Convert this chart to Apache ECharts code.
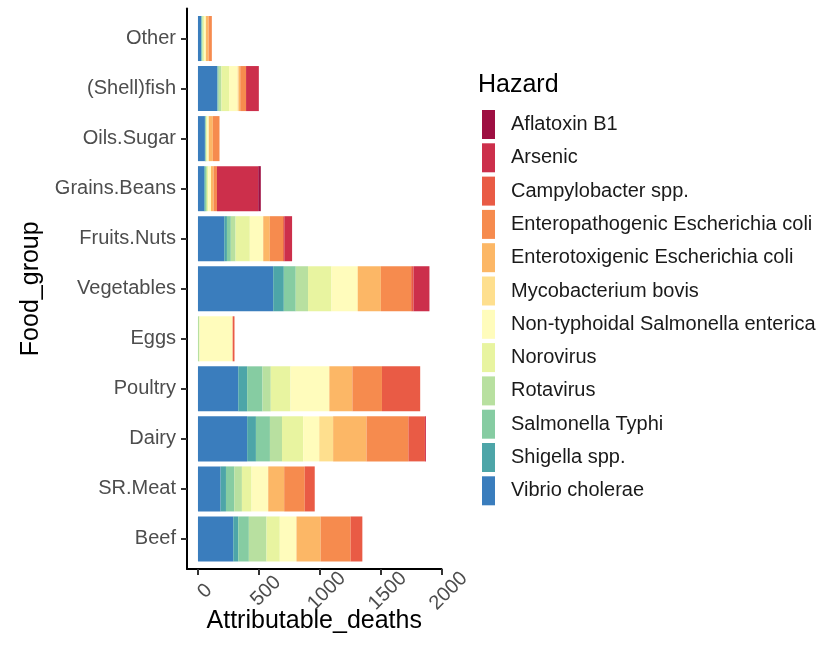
<!DOCTYPE html>
<html>
<head>
<meta charset="utf-8">
<title>Attributable deaths by food group and hazard</title>
<script src="https://cdn.jsdelivr.net/npm/echarts@6/dist/echarts.min.js"></script>
<style>
  html, body { margin: 0; padding: 0; background: #ffffff; }
  #chart { width: 839px; height: 658px; }
</style>
</head>
<body>
<div id="chart"></div>
<script>
// Food groups, listed bottom to top as they sit on the y axis
const categories = ['Beef', 'SR.Meat', 'Dairy', 'Poultry', 'Eggs', 'Vegetables',
  'Fruits.Nuts', 'Grains.Beans', 'Oils.Sugar', '(Shell)fish', 'Other'];

// Attributable deaths per hazard, one value per food group (same order as categories)
const vibrioCholerae   = [290, 186, 404, 331,   0, 618, 216,  52, 57, 161, 25];
const shigella         = [ 41,  44,  72,  73,   0,  87,  22,   6,  4,   0,  5];
const salmonellaTyphi  = [ 87,  68, 115, 126,   0,  98,  32,   8,  6,  10,  8];
const rotavirus        = [145,  63,  99,  68,  12, 101,  39,   8,  0,  22,  0];
const norovirus        = [109,  79, 174, 162,   0, 192, 117,  11, 10,  62, 12];
const nonTyphoidal     = [137, 137, 132, 319, 273, 213, 110,  22, 12,  70, 15];
const mycobacterium    = [  0,   0, 114,   0,   0,   5,   0,   0,  0,   8,  0];
const enterotoxigenic  = [199, 131, 274, 189,   0, 188,  54,  21, 33,  14, 22];
const enteropathogenic = [246, 169, 344, 243,   0, 249, 109,  28, 55,  48, 27];
const campylobacter    = [ 96,  82, 136, 314,  15,  19,  10,   0,  0,   0,  0];
const arsenic          = [  0,   0,   8,   0,   0, 131,  64, 339,  0, 105,  0];
const aflatoxin        = [  0,   0,   0,   0,   0,   0,   0,  21,  0,   0,  0];

// Hazard names in stacking order (leftmost segment first)
const hazards = ['Vibrio cholerae', 'Shigella spp.', 'Salmonella Typhi', 'Rotavirus',
  'Norovirus', 'Non-typhoidal Salmonella enterica', 'Mycobacterium bovis',
  'Enterotoxigenic Escherichia coli', 'Enteropathogenic Escherichia coli',
  'Campylobacter spp.', 'Arsenic', 'Aflatoxin B1'];
const hazardValues = [vibrioCholerae, shigella, salmonellaTyphi, rotavirus, norovirus,
  nonTyphoidal, mycobacterium, enterotoxigenic, enteropathogenic, campylobacter,
  arsenic, aflatoxin];
const hazardColors = ['#3A7DBD', '#4DA5A8', '#86CCA2', '#B8E0A0', '#E8F4A0', '#FFFCBC',
  '#FEDF8E', '#FCB766', '#F68B4E', '#E95B45', '#CC2F4B', '#9E0F42'];

// Tick values on the x axis
const xTicks = [0, 500, 1000, 1500, 2000];

const FONT = "'Liberation Sans', Arial, Helvetica, sans-serif";
const X_MIN = -90, X_MAX = 2000;

const series = hazards.map((name, i) => ({
  name: name,
  type: 'bar',
  stack: 'deaths',
  xAxisIndex: 0,
  yAxisIndex: 0,
  barCategoryGap: '10%',
  itemStyle: { color: hazardColors[i], borderWidth: 0 },
  emphasis: { disabled: true },
  data: hazardValues[i]
}));

const option = {
  animation: false,
  backgroundColor: '#ffffff',
  textStyle: { fontFamily: FONT },
  title: {
    text: 'Hazard',
    left: 478,
    top: 73,
    padding: 0,
    textStyle: { fontFamily: FONT, fontSize: 25, fontWeight: 'normal', color: '#000000' }
  },
  legend: {
    orient: 'vertical',
    left: 482,
    top: 110,
    padding: 0,
    itemWidth: 13,
    itemHeight: 29,
    itemGap: 4.3,
    icon: 'rect',
    selectedMode: false,
    data: hazards.slice().reverse(),
    textStyle: { fontFamily: FONT, fontSize: 20, color: '#1A1A1A', padding: [0, 0, 0, 11] }
  },
  grid: [
    // bars: one category band per food group
    { left: 187, right: 397.5, top: 13.5, bottom: 94 },
    // frame carrying the axis lines, x ticks and the axis titles
    { left: 187, right: 397.5, top: 8.5, bottom: 89 }
  ],
  xAxis: [
    { gridIndex: 0, type: 'value', min: X_MIN, max: X_MAX, show: false },
    {
      gridIndex: 1, type: 'value', min: X_MIN, max: X_MAX,
      axisLine: { show: true, onZero: false, lineStyle: { color: '#000000', width: 2 } },
      axisTick: { show: true, customValues: xTicks, length: 6, lineStyle: { color: '#333333', width: 2 } },
      axisLabel: {
        customValues: xTicks, rotate: 45, align: 'center', verticalAlign: 'top',
        margin: 15, fontSize: 20, color: '#4D4D4D', fontFamily: FONT,
        formatter: (v) => String(v)
      },
      splitLine: { show: false },
      name: 'Attributable_deaths',
      nameLocation: 'middle',
      nameGap: 40,
      nameMoveOverlap: false,
      nameTextStyle: { fontSize: 25, color: '#000000', fontFamily: FONT }
    }
  ],
  yAxis: [
    {
      gridIndex: 0, type: 'category', data: categories,
      axisLine: { show: false, onZero: false },
      axisTick: { show: true, alignWithLabel: true, length: 6, lineStyle: { color: '#333333', width: 2 } },
      axisLabel: { fontSize: 20, color: '#4D4D4D', margin: 11, fontFamily: FONT },
      splitLine: { show: false }
    },
    {
      gridIndex: 1, type: 'value', min: 0, max: 1,
      axisLine: { show: true, onZero: false, lineStyle: { color: '#000000', width: 2 } },
      axisTick: { show: false },
      axisLabel: { show: false },
      splitLine: { show: false },
      name: 'Food_group',
      nameLocation: 'middle',
      nameRotate: 90,
      nameGap: 143,
      nameMoveOverlap: false,
      nameTextStyle: { fontSize: 25, color: '#000000', fontFamily: FONT }
    }
  ],
  series: series
};

const chart = echarts.init(document.getElementById('chart'), null, { renderer: 'canvas' });
chart.setOption(option);
</script>
</body>
</html>
